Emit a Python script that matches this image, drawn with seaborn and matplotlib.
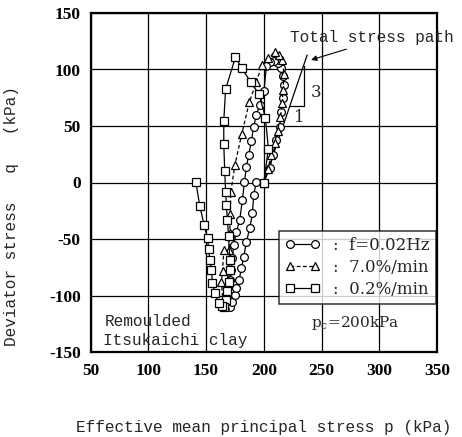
import numpy as np
import pandas as pd
import matplotlib
matplotlib.use("Agg")
import matplotlib.pyplot as plt
import seaborn as sns

# Effective stress paths (p', q) in kPa, in loading order
circ_p = [200, 205.1, 208.0, 210.9, 213.8, 215.2, 216.7, 217.5, 217.0, 215.2, 212.5, 209.0, 205.5, 202.3,
          200.2, 196.5, 193.6, 191.3, 189.3, 187.0, 185.0, 183.3,
          181.5, 179.2, 176.4, 174.0, 172.9, 172.0, 171.2, 170.5, 169.5, 170.5,
          172.9, 174.9, 176.4, 178.6, 180.7, 182.7, 185.0, 187.9, 190.2, 191.3, 193.6]
circ_q = [0, 12.5, 24.3, 37.6, 49.4, 62.7, 74.5, 86.0, 94.0, 101.0, 105.5, 107.5, 106.5, 103.0,
          81.3, 68.6, 59.7, 49.4, 37.0, 24.3, 14.0, 0.7,
          -15.5, -33.0, -43.5, -55.0, -67.0, -77.4, -86.3, -95.0, -104.0, -110.0,
          -105.5, -99.6, -93.6, -86.3, -75.9, -65.7, -52.4, -40.5, -27.3, -11.0, 0.7]

tri_p = [200, 203.5, 206.5, 209.5, 212.0, 214.5, 216.0, 216.7, 217.5, 216.0, 213.0, 209.5,
         204.0, 198.5, 193.6, 187.5, 181.0, 175.0, 171.5,
         171.0, 170.6, 170.0, 169.0, 168.5, 167.5, 166.5,
         164.5, 163.4, 164.3, 165.4]
tri_q = [0, 12, 24, 35, 46, 58, 70, 82, 96, 108, 113, 115.5,
         110, 104, 89, 71, 43, 15.5, -8.5,
         -28, -45, -60, -77, -90, -100, -108,
         -104, -88, -78, -60]

sq_p = [200, 204.0, 201.5, 196.0, 188.7, 181.0, 175.5,
        167.0, 165.4, 165.4, 166.2, 167.0, 167.7, 168.5, 169.5, 170.6, 170.6, 169.5, 168.5, 167.5, 166.0,
        163.5, 161.3, 157.6, 155.6, 154.7, 153.3, 152.3, 151.3, 148.4, 144.6, 141.2]
sq_q = [0, 30, 57, 78, 89, 101, 111,
        82.7, 54.7, 34.0, 10.4, -8.5, -20, -33, -47, -69, -77, -88, -96, -104, -110,
        -109, -107, -97.5, -89.2, -77.4, -68.6, -59, -49.4, -37.6, -20.8, 0.7]

series_labels = [":  f=0.02Hz", ":  7.0%/min", ":  0.2%/min"]

# Total stress path (slope 3 from the consolidation point)
pc = 200
tsp_p = [200, 237.6]

x_ticks = [50, 100, 150, 200, 250, 300, 350]
y_ticks = [-150, -100, -50, 0, 50, 100, 150]

sns.set_style("white")
plt.rcParams["font.family"] = ["DejaVu Serif"]
plt.rcParams["axes.unicode_minus"] = False
plt.rcParams["mathtext.fontset"] = "custom"
plt.rcParams["mathtext.rm"] = "DejaVu Serif"
plt.rcParams["mathtext.it"] = "DejaVu Serif"

mono = "Liberation Mono"

fig = plt.figure(figsize=(4.62, 4.37), dpi=100)
ax = fig.add_axes([90.5 / 462, (437 - 352) / 437, 346.5 / 462, 339 / 437])

mk = dict(markerfacecolor="white", markeredgecolor="black", markeredgewidth=0.9,
          color="black", linewidth=0.9)

frames = [
    pd.DataFrame({"p": circ_p, "q": circ_q}),
    pd.DataFrame({"p": tri_p, "q": tri_q}),
    pd.DataFrame({"p": sq_p, "q": sq_q}),
]
styles = [
    dict(marker="o", markersize=5.6, linestyle="-"),
    dict(marker="^", markersize=5.6, linestyle=(0, (3, 2))),
    dict(marker="s", markersize=5.2, linestyle="-"),
]
handles = []
for df, st, lab in zip(frames, styles, series_labels):
    sns.lineplot(data=df, x="p", y="q", sort=False, estimator=None, ax=ax,
                 legend=False, zorder=3, **st, **mk)
    line = ax.lines[-1]
    line.set_label(lab)
    handles.append(line)

# total stress path and slope triangle
ax.plot(tsp_p, [3 * (v - pc) for v in tsp_p], color="black", lw=0.9, zorder=2)
ax.plot([222.6, 234.5, 234.5], [67.7, 67.7, 103.5], color="black", lw=0.9, zorder=2)
ax.text(245.0, 80.0, "3", fontsize=12, ha="center", va="center")
ax.text(230.5, 57.5, "1", fontsize=12, ha="center", va="center")
ax.text(222.6, 128.5, "Total stress path", fontsize=11.6, family=mono,
        ha="left", va="center")
ax.annotate("", xy=(241.0, 108.5), xytext=(271.5, 118.0),
            arrowprops=dict(arrowstyle="-|>", lw=0.8, color="black",
                            mutation_scale=8, shrinkA=0, shrinkB=0))

ax.text(241.0, -124.5, r"p$_{\rm c}$=200kPa", fontsize=11, ha="left", va="center")
ax.text(62.5, -123.2, "Remoulded", fontsize=11.6, family=mono, ha="left", va="center")
ax.text(60.8, -139.4, "Itsukaichi clay", fontsize=11.6, family=mono, ha="left", va="center")

ax.set_xlim(50, 350)
ax.set_ylim(-150, 150)
ax.set_xticks(x_ticks)
ax.set_yticks(y_ticks)
ax.tick_params(axis="both", length=0, labelsize=12.5, colors="black")
for lab in ax.get_xticklabels() + ax.get_yticklabels():
    lab.set_family("Liberation Serif")
    lab.set_fontweight("bold")
ax.tick_params(axis="x", pad=8)
ax.tick_params(axis="y", pad=7)
ax.grid(True, color="black", linewidth=0.9)
ax.set_axisbelow(True)
for s in ax.spines.values():
    s.set_linewidth(1.6)
    s.set_color("black")

ax.set_xlabel("Effective mean principal stress p (kPa)", family=mono, fontsize=11.6)
ax.set_ylabel("Deviator stress   q   (kPa)", family=mono, fontsize=11.6)
ax.xaxis.set_label_coords(0.5, -0.2)
ax.yaxis.set_label_coords(-0.205, 0.40)

leg = ax.legend(handles=handles, loc="upper left", bbox_to_anchor=(0.544, 0.357),
                numpoints=2, handlelength=2.1, handletextpad=0.8, borderpad=0.35,
                labelspacing=0.3, fontsize=12, frameon=True, fancybox=False,
                borderaxespad=0)
leg.get_frame().set_edgecolor("black")
leg.get_frame().set_linewidth(1.1)
leg.set_zorder(5)

fig.savefig("out.png", dpi=100)
